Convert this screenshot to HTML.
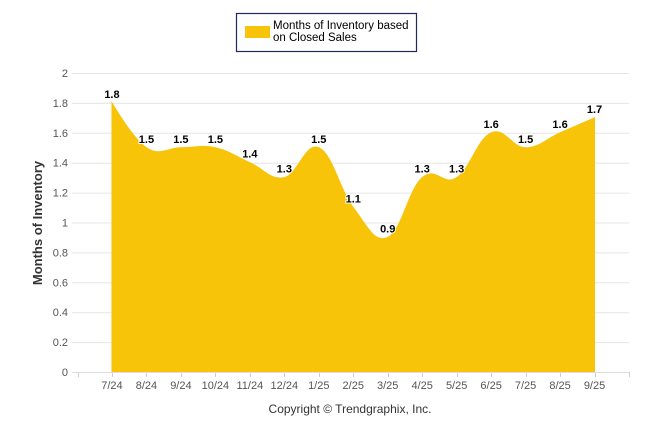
<!DOCTYPE html>
<html><head><meta charset="utf-8"><style>
body{margin:0;background:#fff;}
svg{display:block;font-family:"Liberation Sans",sans-serif;}
</style></head><body>
<svg width="646" height="434">
<g id="grid"></g>
<path id="area" fill="#F7C40A" stroke="#F7C40A" stroke-width="1"></path>
<line x1="72" y1="372.5" x2="629" y2="372.5" stroke="#ddd"/>
<g id="yticks" font-size="11" fill="#555" text-anchor="end"></g>
<g id="xticks" font-size="11" fill="#555" text-anchor="middle"></g>
<g id="labels" font-size="11" font-weight="bold" fill="#000" text-anchor="middle"></g>
<text x="42" y="223" transform="rotate(-90 42 223)" text-anchor="middle" font-size="13" font-weight="bold" fill="#333">Months of Inventory</text>
<g>
<rect x="236.5" y="13.5" width="180" height="38" fill="#fff" stroke="#1f2a5a" stroke-width="1.2"/>
<rect x="245" y="26" width="25" height="12" fill="#F7C40A"/>
<text x="273" y="29" font-size="11.5" fill="#000"><tspan x="273">Months of Inventory based</tspan><tspan x="273" dy="12">on Closed Sales</tspan></text>
</g>
<text x="350" y="413" text-anchor="middle" font-size="12" fill="#333">Copyright © Trendgraphix, Inc.</text>
</svg>
<script>
const categories=["7/24","8/24","9/24","10/24","11/24","12/24","1/25","2/25","3/25","4/25","5/25","6/25","7/25","8/25","9/25"];
const values=[1.8,1.5,1.5,1.5,1.4,1.3,1.5,1.1,0.9,1.3,1.3,1.6,1.5,1.6,1.7];
const yTicks=[0,0.2,0.4,0.6,0.8,1,1.2,1.4,1.6,1.8,2];
const NS="http://www.w3.org/2000/svg";
const L=77.5,R=629,T=73,B=372,ymax=2;
const step=(R-L)/(categories.length+1);
const X=i=>L+step*(i+1);
const Y=v=>B-(v/ymax)*(B-T);
function mk(tag,attrs,parent,txt){const e=document.createElementNS(NS,tag);for(const k in attrs)e.setAttribute(k,attrs[k]);if(txt!=null)e.textContent=txt;parent.appendChild(e);return e;}
const grid=document.getElementById('grid'),yt=document.getElementById('yticks'),xt=document.getElementById('xticks'),lb=document.getElementById('labels');
yTicks.forEach(v=>{
 if(v>0){const g=mk('line',{x1:72,x2:R,y1:Y(v)+0.5,y2:Y(v)+0.5,stroke:'#e6e6e6'},grid);
 
 }
 const t=mk('text',{x:68,y:Y(v)+4},yt,String(v));
 
 
});
for(let i=0;i<=categories.length+1;i++){
 const x=Math.round(L+step*i)+0.5;
 const tk=mk('line',{x1:x,x2:x,y1:372,y2:377,stroke:'#ccc'},grid);
 
 
}
categories.forEach((c,i)=>{
 const t=mk('text',{x:X(i),y:389},xt,c);
 
 
});
const pts=values.map((v,i)=>[X(i),Y(v)]);
const sm=1.5,den=sm+1;
function ctrl(i){
 const p=pts[i],a=pts[i-1],b=pts[i+1];
 if(!a||!b) return null;
 let lx=(sm*p[0]+a[0])/den,ly=(sm*p[1]+a[1])/den,rx=(sm*p[0]+b[0])/den,ry=(sm*p[1]+b[1])/den;
 if(rx!==lx){const s=(ry-ly)/(rx-lx);const corr=ly-(s*(lx-p[0])+p[1]);ly-=corr;ry-=corr;}
 return {l:[lx,ly],r:[rx,ry]};
}
const cs=pts.map((_,i)=>ctrl(i));
let d=`M${pts[0][0]},${B} L${pts[0][0]},${pts[0][1]}`;
for(let i=1;i<pts.length;i++){
 const c1=cs[i-1]?cs[i-1].r:pts[i-1], c2=cs[i]?cs[i].l:pts[i];
 d+=` C${c1[0]},${c1[1]} ${c2[0]},${c2[1]} ${pts[i][0]},${pts[i][1]}`;
}
d+=` L${pts[pts.length-1][0]},${B} Z`;
document.getElementById('area').setAttribute('d',d);
values.forEach((v,i)=>{
 const t=mk('text',{x:X(i),y:Y(v)-5,stroke:'#fff','stroke-width':2,'paint-order':'stroke'},lb,v.toFixed(1));
 
 
});
</script>
</body></html>
